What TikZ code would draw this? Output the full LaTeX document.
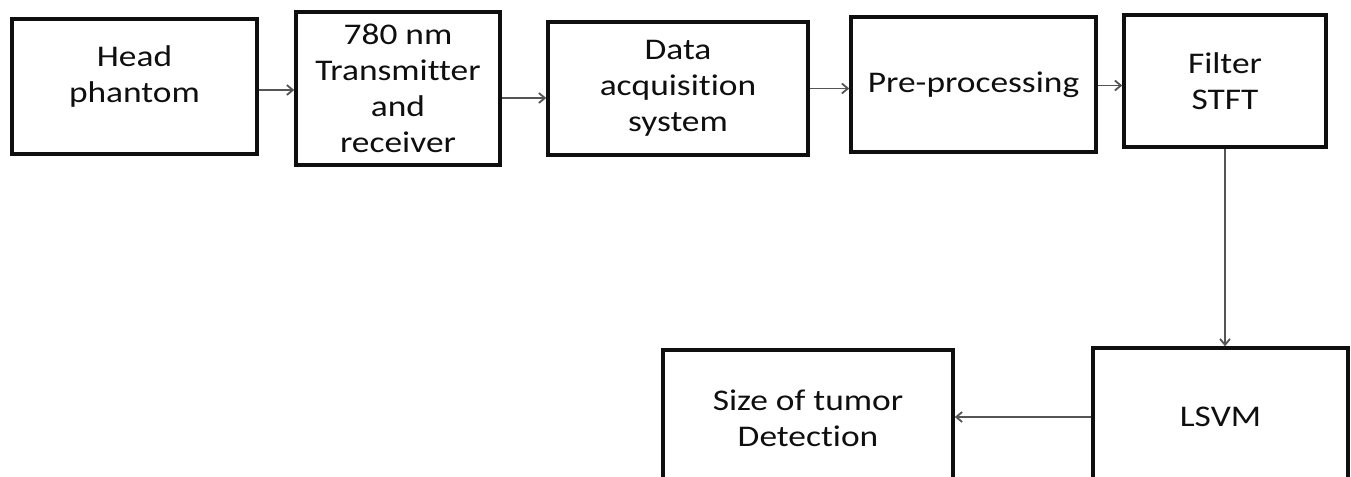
\documentclass[tikz,border=0pt]{standalone}
\usepackage{fontspec}
\setmainfont{Carlito}[FakeStretch=1.18, Ligatures=NoCommon]
\usepackage{tikz}
\usetikzlibrary{positioning,arrows.meta,calc}
\definecolor{bdBlack}{RGB}{15,15,15}
\definecolor{bdGray}{RGB}{85,85,85}
\tikzset{
    base/.style={font=\fontsize{15}{18}\selectfont, align=center, text=bdBlack},
    block/.style={base, rectangle, draw=bdBlack, line width=1.75pt, fill=white, inner sep=2pt},
    flow/.style={-{Straight Barb[length=3pt,width=5pt]}, line width=0.9pt, color=bdGray}
}
\begin{document}
\begin{tikzpicture}[x=0.5pt, y=-0.5pt]
  \clip (0,0) rectangle (1351,477);
  % Top row: phantom -> sensor -> daq -> prep -> stft
  \node[block, minimum width=122.5pt, minimum height=67.5pt] (phantom) at (134.5,86.5) {Head\\phantom\\[-6pt]};
  \node[block, minimum width=102pt, minimum height=76.5pt] (sensor) at (398,88.5) {780 nm\\Transmitter\\and\\receiver};
  \node[block, minimum width=130pt, minimum height=66.5pt] (daq) at (678,88.5) {Data\\acquisition\\system};
  \node[block, minimum width=122.5pt, minimum height=67.5pt] (prep) at (973.5,84.5) {Pre-processing};
  \node[block, minimum width=101pt, minimum height=66pt] (stft) at (1225,81) {Filter\\STFT};

  % Bottom row: size <- lsvm
  \node[block, minimum width=127.5pt, minimum height=69pt] (lsvm) at (1220.5,417) {LSVM};
  \node[block, minimum width=145pt, minimum height=68pt] (size) at (808,418) {Size of tumor\\Detection};

  % Arrows
  \draw[flow] ([yshift=-1.75pt]phantom.east) -- ([yshift=-1.75pt]phantom.east -| sensor.west);
  \draw[flow] ([yshift=-4.75pt]sensor.east) -- ([yshift=-4.75pt]sensor.east -| daq.west);
  \draw[flow] (daq.east) -- (daq.east -| prep.west);
  \draw[flow] ([yshift=-0.5pt]prep.east) -- ([yshift=-0.5pt]prep.east -| stft.west);
  \draw[flow] (stft.south) -- (stft.south |- lsvm.north);
  \draw[flow] (lsvm.west) -- (lsvm.west -| size.east);
\end{tikzpicture}
\end{document}
